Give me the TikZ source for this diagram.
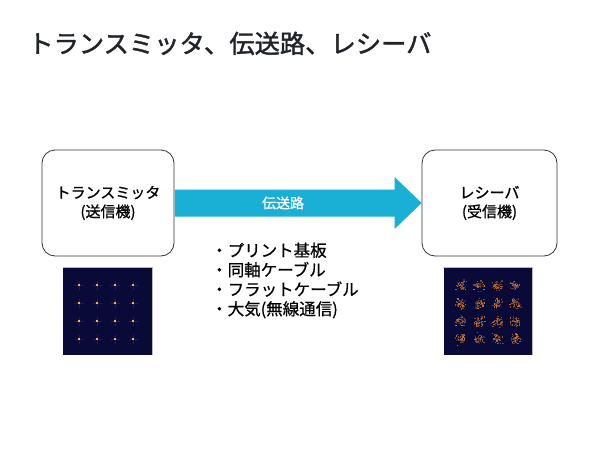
\documentclass[tikz,border=0pt]{standalone}
\usepackage{fontspec}
\setmainfont{Noto Sans CJK JP}
\newfontfamily\titlefont{Noto Sans CJK JP}[FakeBold=1.6]
\newfontfamily\boxfont{Noto Sans CJK JP}[FakeBold=1.0]
\newfontfamily\listfont{Noto Sans CJK JP}[FakeBold=0.5]
\usetikzlibrary{calc}
\definecolor{titlecol}{HTML}{212529}
\definecolor{arrowcol}{HTML}{1AB0D5}
\definecolor{navy}{HTML}{0A0A38}
\definecolor{ptcol}{HTML}{F08C32}
\definecolor{ptbright}{HTML}{FFB050}
\definecolor{crosscol}{HTML}{221C5A}
\definecolor{boxline}{HTML}{333333}
\begin{document}
\begin{tikzpicture}[x=1pt,y=-1pt,
  blockbox/.style={draw=boxline, line width=0.8pt, rounded corners=13pt,
    minimum height=106pt, inner sep=0pt, align=center,
    font=\boxfont\fontsize{15}{19}\selectfont},
  constel/.style={fill=navy, minimum width=89pt, minimum height=88pt, inner sep=0pt},
  bullets/.style={align=left, anchor=west, inner sep=0pt, font=\listfont\fontsize{16.5}{19.5}\selectfont},
]
\useasboundingbox (0,0) rectangle (600,450);
\fill[white] (0,0) rectangle (600,450);

% title
\node[anchor=base west, inner sep=0pt, text=titlecol, font=\titlefont\fontsize{25.3}{25.3}\selectfont] (title) at (28,53) {トランスミッタ、伝送路、レシーバ};

% boxes
\node[blockbox, minimum width=132pt] (tx) at (108,203) {トランスミッタ\\(送信機)};
\node[blockbox, minimum width=135pt] (rx) at (489.5,203) {レシーバ\\(受信機)};

% block arrow
\fill[arrowcol] ($(tx.east)+(0.5,-13.5)$) -- ($(rx.west)+(-27,-13.5)$) -- ($(rx.west)+(-27,-26)$)
  -- (rx.west) -- ($(rx.west)+(-27,26)$) -- ($(rx.west)+(-27,13.5)$) -- ($(tx.east)+(0.5,13.5)$) -- cycle;
\node[text=white, inner sep=0pt, font=\boxfont\fontsize{14}{14}\selectfont] (lbl) at (283,203) {伝送路};

% bullet list
\node[bullets] (list) at (211,280.5) {・プリント基板\\・同軸ケーブル\\・フラットケーブル\\・大気(無線通信)};

% constellation images
\node[constel] (txc) at (107.5,311) {};
\node[constel] (rxc) at (488,311) {};
\draw[gray!55, line width=0.6pt] (txc.north west) -- (txc.north east) -- (txc.south east);
\draw[gray!55, line width=0.6pt] (rxc.north west) -- (rxc.north east) -- (rxc.south east);

% transmitter constellation: clean points
\foreach \cx in {-28.5,-10.5,7.5,25.5} {
  \foreach \cy in {-26,-8,10,28} {
    \fill[crosscol] ($(txc.center)+(\cx-4.5,\cy-0.5)$) rectangle ($(txc.center)+(\cx+4.5,\cy+0.5)$);
    \fill[crosscol] ($(txc.center)+(\cx-0.5,\cy-4.5)$) rectangle ($(txc.center)+(\cx+0.5,\cy+4.5)$);
    \fill[ptcol] ($(txc.center)+(\cx-1.3,\cy-1.3)$) rectangle ($(txc.center)+(\cx+1.3,\cy+1.3)$);
    \fill[ptbright] ($(txc.center)+(\cx-0.6,\cy-0.6)$) rectangle ($(txc.center)+(\cx+0.6,\cy+0.6)$);
  }
}

% receiver constellation: noisy points
\pgfmathsetseed{11}
\foreach \cx in {-27.5,-9.5,9,26.5} {
  \foreach \cy in {-26,-8,10,27} {
    \foreach \k in {1,...,45} {
      \pgfmathsetmacro\dx{2.4*(rand+rand+rand)}
      \pgfmathsetmacro\dy{2.4*(rand+rand+rand)}
      \pgfmathsetmacro\cc{int(20+65*rnd)}
      \fill[ptcol!\cc!navy] ($(rxc.center)+(\cx+\dx,\cy+\dy)$) rectangle +(1.3,1.3);
    }
  }
}
\end{tikzpicture}
\end{document}
